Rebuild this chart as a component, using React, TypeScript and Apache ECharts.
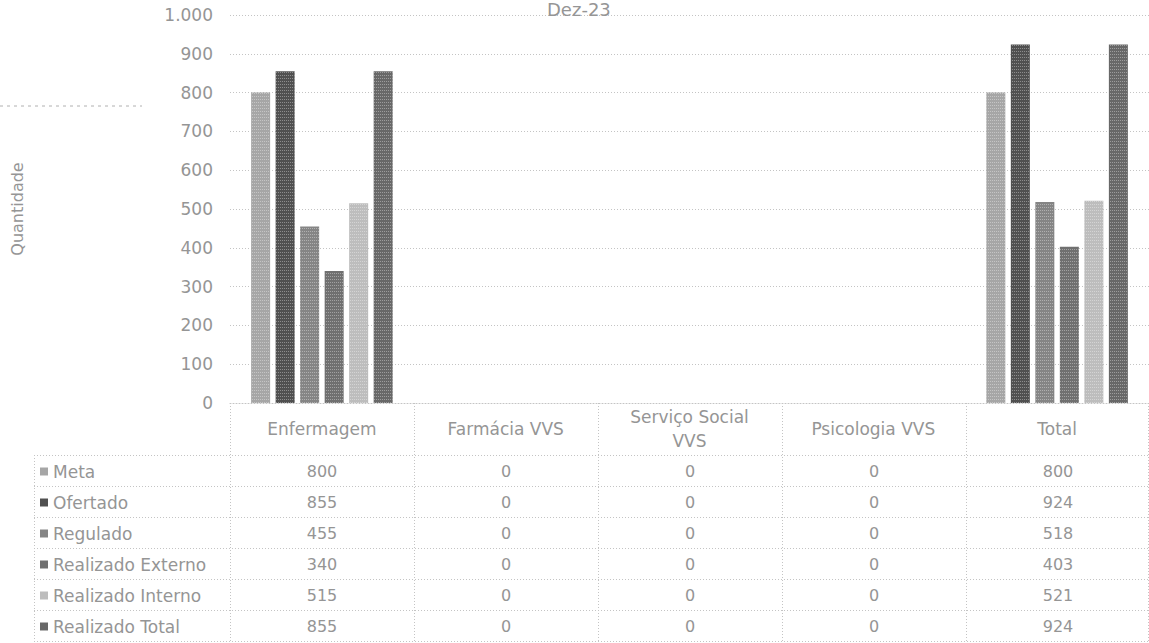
import React, { useEffect, useRef } from 'react';
import * as echarts from 'echarts';

const chartTitle = 'Dez-23';
const yAxisName = 'Quantidade';
const categories = ['Enfermagem', 'Farmácia VVS', 'Serviço Social\nVVS', 'Psicologia VVS', 'Total'];
const seriesNames = ['Meta', 'Ofertado', 'Regulado', 'Realizado Externo', 'Realizado Interno', 'Realizado Total'];
const meta = [800, 0, 0, 0, 800];
const ofertado = [855, 0, 0, 0, 924];
const regulado = [455, 0, 0, 0, 518];
const realizadoExterno = [340, 0, 0, 0, 403];
const realizadoInterno = [515, 0, 0, 0, 521];
const realizadoTotal = [855, 0, 0, 0, 924];
const seriesValues = [meta, ofertado, regulado, realizadoExterno, realizadoInterno, realizadoTotal];
const yMin = 0;
const yMax = 1000;
const yStep = 100;

const colors = ['#a6a6a6', '#505050', '#858585', '#707070', '#bdbdbd', '#686868'];
const FONT = 'DejaVu Sans';
const TEXT = '#959595';
const LINE = '#c4c4c4';

const W = 1149;
const H = 643;
const GRID_LEFT = 230;
const GRID_RIGHT_X = 1150;
const GRID_TOP = 15;
const GRID_BOTTOM_Y = 403;
const HEADER_BOTTOM = 455;
const ROW_H = 31;
const TABLE_LEFT = 34;

const fmt = (v: number) => String(v).replace(/\B(?=(\d{3})+(?!\d))/g, '.');

export default function App() {
  const ref = useRef<HTMLDivElement>(null);
  useEffect(() => {
    if (!ref.current) return;
    const chart = echarts.init(ref.current, undefined, { renderer: 'svg' });
    const catW = (GRID_RIGHT_X - GRID_LEFT) / categories.length;
    const dash = [1, 2];
    const graphics: any[] = [];
    graphics.push({
      type: 'line', shape: { x1: 0, y1: 106, x2: 142, y2: 106 },
      style: { stroke: '#b0b0b0', lineWidth: 1, lineDash: [3, 4] }, silent: true,
    });
    for (let r = 0; r <= seriesNames.length; r++) {
      const y = HEADER_BOTTOM + r * ROW_H + 0.5;
      graphics.push({
        type: 'line', shape: { x1: TABLE_LEFT, y1: y, x2: W, y2: y },
        style: { stroke: LINE, lineWidth: 1, lineDash: dash }, silent: true,
      });
    }
    for (let i = 0; i <= categories.length; i++) {
      const x = Math.min(GRID_LEFT + i * catW, W - 1) + 0.5;
      graphics.push({
        type: 'line', shape: { x1: x, y1: GRID_BOTTOM_Y, x2: x, y2: HEADER_BOTTOM + seriesNames.length * ROW_H },
        style: { stroke: LINE, lineWidth: 1, lineDash: dash }, silent: true,
      });
    }
    graphics.push({
      type: 'line', shape: { x1: TABLE_LEFT + 0.5, y1: HEADER_BOTTOM, x2: TABLE_LEFT + 0.5, y2: HEADER_BOTTOM + seriesNames.length * ROW_H },
      style: { stroke: LINE, lineWidth: 1, lineDash: dash }, silent: true,
    });
    seriesNames.forEach((name, r) => {
      const cy = HEADER_BOTTOM + r * ROW_H + ROW_H / 2 + 1;
      graphics.push({
        type: 'rect', shape: { x: 40, y: cy - 4, width: 8, height: 8 },
        style: { fill: colors[r] }, silent: true,
      });
      graphics.push({
        type: 'text', x: 53, y: cy,
        style: { text: name, fill: TEXT, font: `17px "${FONT}"`, textAlign: 'left', textVerticalAlign: 'middle' },
        silent: true,
      });
      seriesValues[r].forEach((v, i) => {
        graphics.push({
          type: 'text', x: GRID_LEFT + (i + 0.5) * catW, y: cy,
          style: { text: fmt(v), fill: TEXT, font: `16px "${FONT}"`, textAlign: 'center', textVerticalAlign: 'middle' },
          silent: true,
        });
      });
    });

    chart.setOption({
      animation: false,
      backgroundColor: '#ffffff',
      textStyle: { fontFamily: FONT },
      title: {
        text: chartTitle, left: 547, top: 0, padding: 0,
        textStyle: { fontFamily: FONT, fontSize: 18, fontWeight: 'normal', color: TEXT },
      },
      grid: { left: GRID_LEFT, right: W - GRID_RIGHT_X, top: GRID_TOP, bottom: H - GRID_BOTTOM_Y, containLabel: false },
      xAxis: {
        type: 'category', data: categories,
        axisLine: { show: true, lineStyle: { color: LINE, type: dash } },
        axisTick: { show: false },
        axisLabel: {
          color: TEXT, fontFamily: FONT, fontSize: 17, margin: 26, verticalAlign: 'middle',
          lineHeight: 24, interval: 0,
        },
      },
      yAxis: {
        type: 'value', min: yMin, max: yMax, interval: yStep,
        name: yAxisName, nameLocation: 'middle', nameGap: 205, nameRotate: 90,
        nameTextStyle: { color: TEXT, fontFamily: FONT, fontSize: 16 },
        axisLine: { show: false }, axisTick: { show: false },
        axisLabel: { color: TEXT, fontFamily: FONT, fontSize: 17, margin: 17, formatter: (v: number) => fmt(v) },
        splitLine: { show: true, lineStyle: { color: LINE, type: dash } },
      },
      series: seriesNames.map((name, k) => ({
        name, type: 'bar', data: seriesValues[k], barWidth: 19, barGap: '29%',
        itemStyle: {
          color: colors[k],
          decal: {
            symbol: 'rect', symbolSize: 1, dashArrayX: [1, 1], dashArrayY: [1, 2],
            color: 'rgba(255,255,255,0.35)', rotation: 0,
          },
        },
      })),
      graphic: graphics,
    });
    return () => chart.dispose();
  }, []);
  return <div ref={ref} style={{ position: 'fixed', left: 0, top: 0, width: W, height: H }} />;
}
